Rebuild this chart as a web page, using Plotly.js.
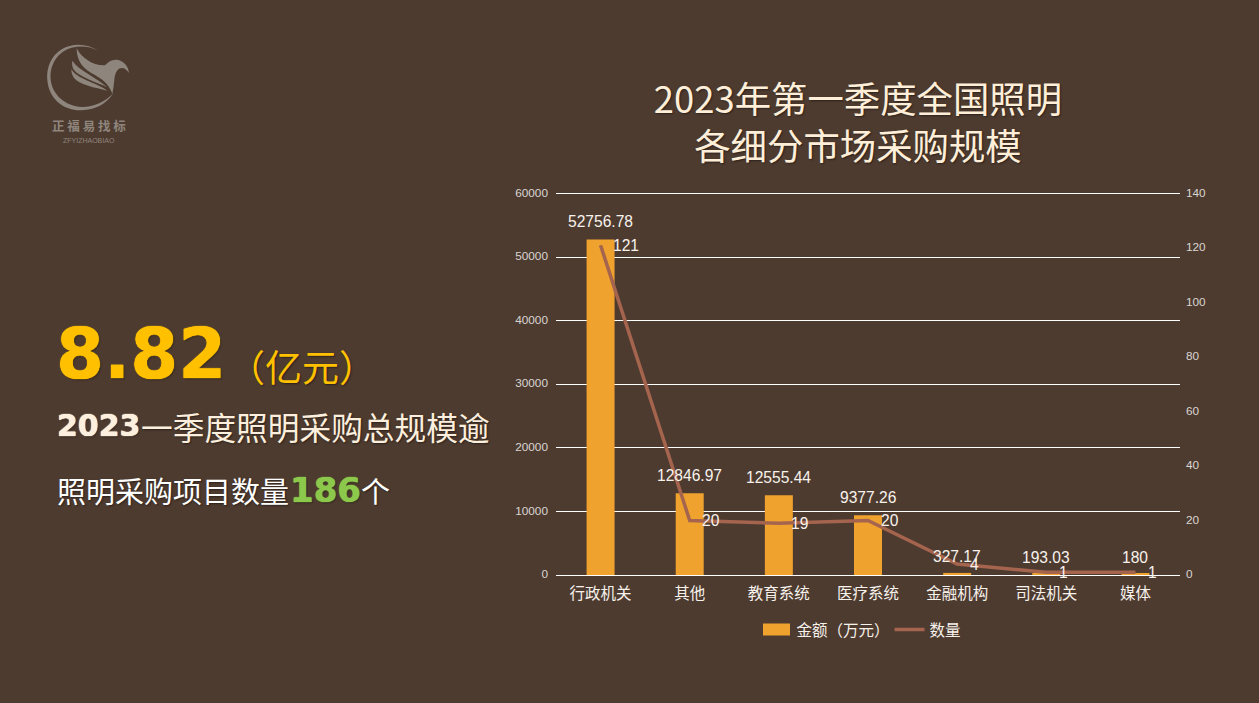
<!DOCTYPE html>
<html><head><meta charset="utf-8">
<script src="https://cdn.plot.ly/plotly-3.0.1.min.js"></script>
<style>
html,body{margin:0;padding:0;background:#4E3B30;overflow:hidden}
#chart{position:absolute;left:0;top:0;width:1259px;height:703px}
#logo{position:absolute;left:30px;top:30px;z-index:5}
</style></head><body>
<div id="chart"></div>
<svg id="logo" width="120" height="125" viewBox="0 0 360 375">
 <g fill="#8E857D">
  <path d="M205 62C180 46 150 40 122 47C75 58 48 100 52 150C56 205 100 243 155 241C195 240 230 222 250 190C225 216 190 232 155 231C108 229 66 196 62 148C58 102 85 64 125 53C155 46 182 50 205 62Z"/>
  <path d="M140 55C155 85 190 108 225 106C235 94 250 86 265 90C282 95 295 108 297 129C291 120 284 114 276 114C265 114 258 124 254 140C252 160 250 178 247 192C240 170 225 152 195 135C160 118 140 95 140 55Z"/>
  <path d="M127 92C145 122 195 138 232 172C200 156 150 142 132 120C127 112 125 102 127 92Z"/>
  <path d="M124 118C142 148 195 156 232 182C195 172 150 166 132 144C127 137 124 128 124 118Z"/>
 </g>
</svg>
<script>
const categories = ['行政机关','其他','教育系统','医疗系统','金融机构','司法机关','媒体'];
const amounts = [52756.78,12846.97,12555.44,9377.26,327.17,193.03,180];
const counts = [121,20,19,20,4,1,1];
const amountTicks = [0,10000,20000,30000,40000,50000,60000];
const countTicks = [0,20,40,60,80,100,120,140];
const seriesNames = ['金额（万元）','数量'];
const titleText = '2023年第一季度全国照明<br>各细分市场采购规模';

const CJK = '"Noto Sans CJK SC","Liberation Sans",sans-serif';
const LAT = '"Liberation Sans",Arial,sans-serif';
const BLACK = '"DejaVu Sans",sans-serif';
const W = 1259, H = 703;
const m = {l:556, r:79, t:191, b:127.5};
const pw = W-m.l-m.r, ph = H-m.t-m.b;
const px = x => (x-m.l)/pw;
const py = y => 1-(y-m.t)/ph;
const SH = '1px 1px 2px rgba(0,0,0,0.45)';
const fat = c => `0 0 1px ${c}, 0 0 1px ${c}, 1px 1px 2px rgba(0,0,0,0.45)`;

function txt(text,x,y,size,color,family,weight,anchor,shadow){
  return {text,xref:'paper',yref:'paper',x:px(x),y:py(y),xanchor:anchor||'left',yanchor:'middle',
    showarrow:false,align:'left',borderpad:0,
    font:{size,color,family,weight:weight||400,shadow:shadow||SH}};
}
const anns = [
  txt('8.82',55,354,69,'#FFC000',BLACK,700,'left',fat('#FFC000')),
  txt('（亿元）',227,366,37,'#FFC000',CJK),
  txt('2023',55.5,426,30,'#FDEFDD',BLACK,700,'left',fat('#FDEFDD')),
  txt('一季度照明采购总规模逾',140,426,31.7,'#FDEFDD',CJK),
  txt('照明采购项目数量',55.5,490,29,'#FFFFFF',CJK),
  txt('186',288.5,490,34,'#8CC84B',BLACK,700,'left',fat('#8CC84B')),
  txt('个',360,490,29,'#FFFFFF',CJK),
  txt('正 福 易 找 标',88.5,125,12.5,'#8E857D',CJK,700,'center','none'),
  txt('ZFYIZHAOBIAO',89,140,7,'#8E857D',LAT,400,'center','none')
];
categories.forEach((c,i)=>{
  anns.push({text:String(amounts[i]),xref:'x',yref:'y',x:c,y:amounts[i],xanchor:'center',yanchor:'middle',
    yshift:amounts[i]<1000?16:17.5,
    showarrow:false,font:{size:15.6,color:'#F7F2EC',family:LAT}});
  anns.push({text:String(counts[i]),xref:'x',yref:'y2',x:c,y:counts[i],xanchor:'left',yanchor:'middle',xshift:10.5,
    showarrow:false,font:{size:15.6,color:'#F7F2EC',family:LAT}});
});

const data = [
 {type:'bar',name:seriesNames[0],x:categories,y:amounts,marker:{color:'#F0A22E'},width:0.314,hoverinfo:'x+y'},
 {type:'scatter',mode:'lines',name:seriesNames[1],x:categories,y:counts,yaxis:'y2',line:{color:'#A5644E',width:3.5}}
];
const layout = {
  width:W,height:H,paper_bgcolor:'#4E3B30',plot_bgcolor:'rgba(0,0,0,0)',
  margin:m,showlegend:true,bargap:0.686,
  title:{text:titleText,xref:'container',yref:'container',x:858/W,y:1-113/H,xanchor:'center',yanchor:'middle',
    font:{size:36.4,color:'#FFEFD9',family:CJK,shadow:SH}},
  xaxis:{type:'category',categoryorder:'array',categoryarray:categories,showgrid:false,showline:false,zeroline:false,
    ticks:'',tickfont:{size:15.5,color:'#F7F2EC',family:CJK},ticklabelstandoff:7},
  yaxis:{range:[0,60377],tickvals:amountTicks,ticktext:amountTicks.map(String),showgrid:true,gridcolor:'#FFFFFF',gridwidth:1,
    zeroline:true,zerolinecolor:'#FFFFFF',zerolinewidth:1,showline:false,ticks:'',tickfont:{size:11.8,color:'#D9D5D0',family:LAT},ticklabelstandoff:7,ticklabelshift:-1},
  yaxis2:{range:[0,140.88],tickvals:countTicks,ticktext:countTicks.map(String),overlaying:'y',side:'right',showgrid:false,zeroline:false,
    showline:false,ticks:'',tickfont:{size:11.8,color:'#D9D5D0',family:LAT},ticklabelstandoff:5,ticklabelshift:-1},
  legend:{orientation:'h',xref:'container',yref:'container',x:859/W,y:1-630/H,xanchor:'center',yanchor:'middle',
    font:{size:15.5,color:'#F7F2EC',family:CJK},bgcolor:'rgba(0,0,0,0)',itemwidth:30,traceorder:'normal'},
  annotations:anns
};
Plotly.newPlot('chart',data,layout,{displayModeBar:false,responsive:false}).then(()=>{
  const sw = document.querySelector('.legend .traces .legendpoints path');
  if(sw) sw.setAttribute('d','M13.5,6H-13.5V-6H13.5Z');
  const first = document.querySelector('.legend .traces');
  if(first){
    const t = first.getAttribute('transform')||'';
    first.setAttribute('transform','translate(5,0) '+t);
  }
});
</script>
</body></html>
